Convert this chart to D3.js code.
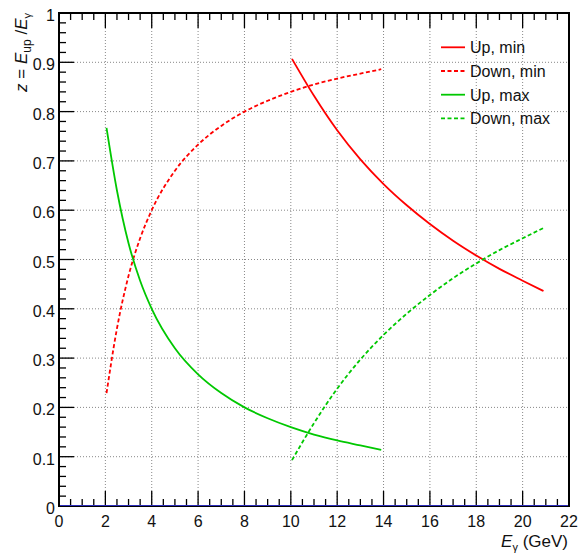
<!DOCTYPE html>
<html>
<head>
<meta charset="utf-8">
<script src="https://cdn.jsdelivr.net/npm/d3@7"></script>
<style>
  body { margin: 0; background: #fff; }
  svg { font-family: "Liberation Sans", Arial, sans-serif; }
</style>
</head>
<body>
<svg id="chart" width="580" height="556"></svg>
<script>
// ---- data ----
const upMinX   = [10.05, 11, 12, 13, 14, 15, 16, 17, 18, 19, 20, 20.9];
const upMinY   = [0.907, 0.832, 0.762, 0.703, 0.653, 0.610, 0.572, 0.538, 0.508, 0.481, 0.457, 0.436];
const downMinX = [2.05, 2.5, 3, 3.5, 4, 5, 6, 7, 8, 9, 10, 11, 12, 13, 13.9];
const downMinY = [0.229, 0.360, 0.467, 0.543, 0.600, 0.680, 0.733, 0.771, 0.800, 0.822, 0.840, 0.855, 0.867, 0.877, 0.886];
const upMaxX   = [2.05, 2.5, 3, 3.5, 4, 5, 6, 7, 8, 9, 10, 11, 12, 13, 13.9];
const upMaxY   = [0.767, 0.640, 0.533, 0.457, 0.400, 0.320, 0.267, 0.229, 0.200, 0.178, 0.160, 0.145, 0.133, 0.123, 0.114];
const downMaxX = [10.05, 11, 12, 13, 14, 15, 16, 17, 18, 19, 20, 20.9];
const downMaxY = [0.093, 0.168, 0.238, 0.297, 0.347, 0.390, 0.428, 0.462, 0.492, 0.519, 0.543, 0.564];

const seriesNames  = ["Up, min", "Down, min", "Up, max", "Down, max"];
const xTickValues  = [0, 2, 4, 6, 8, 10, 12, 14, 16, 18, 20, 22];
const yTickValues  = [0, 0.1, 0.2, 0.3, 0.4, 0.5, 0.6, 0.7, 0.8, 0.9, 1];
const yTickLabels  = ["0", "0.1", "0.2", "0.3", "0.4", "0.5", "0.6", "0.7", "0.8", "0.9", "1"];

// ---- layout ----
const svg = d3.select("#chart");
const L = 59, R = 569, T = 13, B = 506;
const x = d3.scaleLinear().domain([0, 22]).range([L, R]);
const y = d3.scaleLinear().domain([0, 1]).range([B, T]);

const RED = "#ff0000", GREEN = "#00c800";
const series = [
  { name: seriesNames[0], xs: upMinX,   ys: upMinY,   color: RED,   dash: null },
  { name: seriesNames[1], xs: downMinX, ys: downMinY, color: RED,   dash: "4,2.5" },
  { name: seriesNames[2], xs: upMaxX,   ys: upMaxY,   color: GREEN, dash: null },
  { name: seriesNames[3], xs: downMaxX, ys: downMaxY, color: GREEN, dash: "4,2.5" }
];

// grid
const grid = svg.append("g");
grid.selectAll("line.gx").data(xTickValues.slice(1, -1)).enter().append("line")
  .attr("x1", d => x(d)).attr("x2", d => x(d)).attr("y1", T).attr("y2", B)
  .attr("stroke", "#888").attr("stroke-width", 1).attr("stroke-dasharray", "1,2");
grid.selectAll("line.gy").data(yTickValues.slice(1, -1)).enter().append("line")
  .attr("x1", L).attr("x2", R).attr("y1", d => y(d)).attr("y2", d => y(d))
  .attr("stroke", "#888").attr("stroke-width", 1).attr("stroke-dasharray", "1,2");

// curves
const line = d3.line().x(d => x(d[0])).y(d => y(d[1])).curve(d3.curveMonotoneX);
series.forEach(s => {
  const pts = s.xs.map((v, i) => [v, s.ys[i]]);
  svg.append("path").datum(pts).attr("d", line)
    .attr("fill", "none").attr("stroke", s.color).attr("stroke-width", 1.8)
    .attr("stroke-dasharray", s.dash);
});

// axes with ROOT-like ticks
const xMinor = d3.range(0, 22.001, 0.5);
const yMinor = d3.range(0, 1.0001, 0.02);
const isMajorX = v => Math.abs(v / 2 - Math.round(v / 2)) < 1e-6;
const isMajorY = v => Math.abs(v * 10 - Math.round(v * 10)) < 1e-6;

const ticks = svg.append("g").attr("stroke", "#000").attr("stroke-width", 1.3);
// bottom ticks (pointing up)
ticks.selectAll("line.bx").data(xMinor.filter(v => v > 0 && v < 22)).enter().append("line")
  .attr("x1", d => x(d)).attr("x2", d => x(d))
  .attr("y1", B).attr("y2", d => B - (isMajorX(d) ? 15 : 7));
// top ticks (pointing down)
ticks.selectAll("line.tx").data(xMinor.filter(v => v > 0 && v < 22)).enter().append("line")
  .attr("x1", d => x(d)).attr("x2", d => x(d))
  .attr("y1", T).attr("y2", d => T + (isMajorX(d) ? 15 : 7));
// left ticks
ticks.selectAll("line.ly").data(yMinor.filter(v => v > 0.001 && v < 0.999)).enter().append("line")
  .attr("x1", L).attr("x2", d => L + (isMajorY(d) ? 15 : 7))
  .attr("y1", d => y(d)).attr("y2", d => y(d));

// frame
svg.append("rect").attr("x", L).attr("y", T).attr("width", R - L).attr("height", B - T)
  .attr("fill", "none").attr("stroke", "#000").attr("stroke-width", 2);
// blue baseline at y = 0
svg.append("line").attr("x1", L + 1).attr("x2", R - 1).attr("y1", y(0) - 0.5).attr("y2", y(0) - 0.5)
  .attr("stroke", "#2d2dbb").attr("stroke-width", 1.2);

// tick labels
svg.append("g").selectAll("text").data(xTickValues).enter().append("text")
  .attr("x", d => x(d)).attr("y", 527).attr("text-anchor", "middle")
  .attr("font-size", 16).attr("fill", "#111").text(d => d);
svg.append("g").selectAll("text").data(yTickValues).enter().append("text")
  .attr("x", 55).attr("y", d => y(d) + 8).attr("text-anchor", "end")
  .attr("font-size", 16).attr("fill", "#111").text((d, i) => yTickLabels[i]);

// axis titles
const xt = svg.append("text").attr("x", 568).attr("y", 547).attr("text-anchor", "end")
  .attr("font-size", 17).attr("fill", "#111");
xt.append("tspan").attr("font-style", "italic").text("E");
xt.append("tspan").attr("font-size", 11).attr("dy", 4).text("γ");
xt.append("tspan").attr("dy", -4).text(" (GeV)");

const yt = svg.append("text").attr("transform", "translate(27,13) rotate(-90)")
  .attr("text-anchor", "end").attr("font-size", 17).attr("fill", "#111");
yt.append("tspan").attr("font-style", "italic").text("z");
yt.append("tspan").text(" = ");
yt.append("tspan").attr("font-style", "italic").text("E");
yt.append("tspan").attr("font-size", 12).attr("dy", 4).text("up");
yt.append("tspan").attr("dy", -4).text(" /");
yt.append("tspan").attr("font-style", "italic").text("E");
yt.append("tspan").attr("font-size", 11).attr("dy", 4).text("γ");

// legend
const leg = svg.append("g");
series.forEach((s, i) => {
  const by = 53.3 + i * 23.7;
  leg.append("line").attr("x1", 441).attr("x2", 465).attr("y1", by - 6).attr("y2", by - 6)
    .attr("stroke", s.color).attr("stroke-width", 1.8).attr("stroke-dasharray", s.dash);
  leg.append("text").attr("x", 470).attr("y", by).attr("font-size", 16).attr("fill", "#111").text(s.name);
});
</script>
</body>
</html>
